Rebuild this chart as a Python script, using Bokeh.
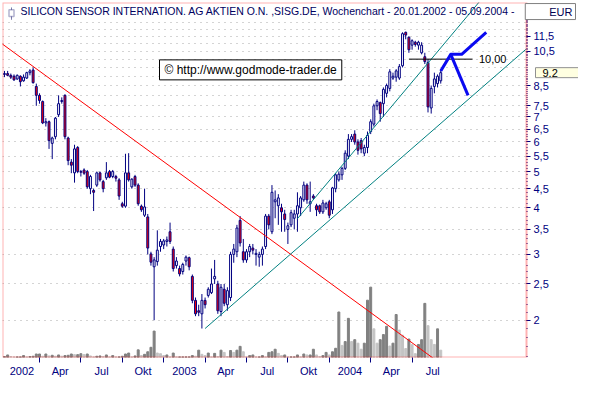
import numpy as np
import pandas as pd
from bokeh.plotting import figure
from bokeh.models import (Range1d, LinearScale, FixedTicker, LinearAxis, Label,
                          ColumnDataSource, BoxAnnotation)
from bokeh.embed import file_html
from bokeh.resources import INLINE

# ---------------- data (weekly, SISG.DE) ----------------
first_week = "2002-01-20"
opens = [9.10, 9.15, 9.05, 9.00, 8.85, 9.00, 8.75, 8.90, 9.20, 9.35,
         8.45, 8.00, 7.70, 6.75, 6.80, 5.95, 6.20, 7.10, 7.70, 8.00,
         6.15, 5.30, 4.96, 5.80, 5.00, 5.05, 5.00, 4.50, 4.45, 4.60,
         4.96, 4.70, 4.81, 5.00, 4.85, 4.85, 4.75, 4.10, 4.04, 4.96,
         4.55, 4.85, 4.60, 4.04, 3.82, 3.78, 3.01, 2.78, 2.87, 3.15,
         3.18, 3.25, 3.45, 3.10, 2.80, 2.75, 2.70, 2.88, 2.94, 2.62,
         2.26, 2.12, 2.08, 2.26, 2.33, 2.37, 2.58, 2.50, 2.11, 2.42,
         2.20, 2.30, 3.00, 3.05, 3.70, 3.05, 2.90, 3.05, 3.12, 3.00,
         2.95, 3.00, 3.15, 3.80, 3.45, 4.15, 4.05, 4.00, 3.85, 3.50,
         3.60, 3.75, 3.85, 4.00, 4.20, 4.60, 4.10, 4.30, 4.05, 4.05,
         3.90, 4.00, 4.15, 3.95, 4.50, 4.75, 4.90, 5.10, 5.50, 6.10,
         6.30, 6.00, 6.05, 5.60, 5.80, 6.40, 6.70, 7.50, 7.65, 7.60,
         8.10, 8.35, 8.90, 8.95, 8.90, 9.60, 11.80, 11.45, 10.90, 11.10,
         10.90, 10.40, 10.15, 9.80, 7.40, 8.45, 8.60, 8.75]
highs = [9.30, 9.30, 9.15, 9.10, 9.10, 9.05, 9.10, 9.25, 9.40, 9.50,
         8.60, 8.10, 7.75, 6.95, 6.85, 6.20, 7.00, 8.00, 7.90, 8.05,
         6.20, 5.40, 5.90, 5.85, 5.05, 5.10, 5.05, 4.90, 4.50, 5.00,
         5.00, 4.75, 5.30, 5.05, 5.05, 4.90, 4.80, 4.15, 5.58, 5.60,
         4.80, 4.90, 4.65, 4.08, 4.50, 3.85, 3.05, 2.95, 3.48, 3.30,
         3.30, 3.35, 3.65, 3.15, 2.95, 2.80, 2.85, 2.98, 2.96, 2.65,
         2.30, 2.20, 2.35, 2.30, 2.45, 2.75, 2.90, 2.55, 2.50, 2.50,
         2.45, 3.05, 3.20, 3.60, 3.80, 3.30, 3.10, 3.20, 3.20, 3.10,
         3.05, 3.15, 3.85, 3.85, 4.60, 4.45, 4.35, 4.10, 3.95, 3.65,
         3.95, 3.95, 4.40, 4.30, 4.70, 4.65, 4.70, 4.35, 4.10, 4.08,
         4.20, 4.15, 4.20, 4.55, 4.95, 5.00, 5.15, 5.70, 6.30, 6.30,
         6.45, 6.10, 6.15, 5.90, 6.40, 6.90, 7.60, 7.80, 7.70, 8.40,
         8.60, 9.40, 9.20, 9.40, 9.70, 11.80, 11.85, 11.50, 11.30, 11.20,
         11.20, 11.10, 10.40, 10.00, 8.50, 9.20, 9.10, 9.35]
lows = [8.95, 9.00, 8.85, 8.75, 8.80, 8.45, 8.70, 8.85, 9.05, 8.60,
        7.50, 7.60, 6.70, 6.60, 5.75, 5.40, 6.10, 7.00, 7.60, 6.10,
        5.20, 4.95, 4.67, 4.95, 4.85, 4.90, 4.50, 4.35, 3.92, 4.55,
        4.70, 4.40, 4.75, 4.80, 4.80, 4.70, 4.20, 4.00, 4.00, 4.70,
        4.50, 4.55, 4.05, 3.90, 3.78, 3.00, 2.80, 2.00, 2.80, 3.05,
        3.10, 3.15, 3.20, 2.70, 2.75, 2.62, 2.65, 2.80, 2.72, 2.22,
        2.05, 2.05, 1.90, 2.15, 2.30, 2.35, 2.50, 2.08, 2.05, 2.18,
        2.12, 2.25, 2.85, 2.95, 3.15, 2.85, 2.85, 2.95, 3.00, 2.80,
        2.78, 2.80, 3.10, 3.50, 3.40, 3.75, 3.60, 3.45, 3.45, 3.20,
        3.55, 3.50, 3.45, 3.80, 4.15, 4.10, 3.90, 4.20, 3.80, 3.85,
        3.85, 3.95, 3.75, 3.85, 4.40, 4.70, 4.75, 5.05, 5.40, 6.00,
        5.90, 5.55, 5.60, 5.50, 5.60, 6.30, 6.60, 7.30, 6.80, 7.00,
        7.90, 8.20, 8.80, 8.70, 8.80, 9.50, 11.30, 10.40, 10.60, 10.80,
        10.60, 10.30, 9.70, 7.20, 7.15, 8.10, 8.40, 8.60]
closes = [9.15, 9.05, 8.95, 8.80, 9.05, 8.70, 8.95, 9.20, 9.30, 8.65,
          8.00, 7.75, 6.75, 6.80, 6.05, 6.15, 6.95, 7.60, 7.75, 6.20,
          5.35, 5.20, 5.75, 5.00, 4.98, 4.95, 4.55, 4.85, 4.40, 4.96,
          4.75, 4.50, 4.96, 4.83, 5.00, 4.80, 4.30, 4.04, 4.96, 4.75,
          4.77, 4.60, 4.10, 3.95, 4.02, 3.12, 2.86, 2.90, 3.08, 3.25,
          3.26, 3.28, 3.25, 2.75, 2.88, 2.66, 2.82, 2.95, 2.78, 2.26,
          2.08, 2.10, 2.26, 2.20, 2.42, 2.50, 2.62, 2.12, 2.45, 2.22,
          2.40, 3.00, 3.10, 3.53, 3.22, 2.90, 3.05, 3.15, 3.08, 3.02,
          3.00, 3.10, 3.80, 3.60, 4.40, 4.20, 4.25, 3.90, 3.72, 3.58,
          3.88, 3.85, 4.05, 4.25, 4.60, 4.20, 4.15, 4.25, 3.95, 3.90,
          4.12, 4.10, 3.82, 4.52, 4.90, 4.92, 5.10, 5.60, 6.10, 6.20,
          6.00, 5.70, 5.75, 5.80, 6.25, 6.80, 7.50, 7.70, 7.15, 8.30,
          8.50, 9.25, 9.00, 9.30, 9.55, 11.70, 11.60, 10.60, 11.20, 10.95,
          11.10, 10.90, 9.85, 7.45, 8.35, 8.85, 9.00, 9.20]
volumes = [3, 8, 3, 2, 2, 2, 6, 2, 3, 4,
           11, 11, 4, 11, 5, 7, 4, 8, 4, 6,
           7, 11, 9, 9, 12, 9, 11, 5, 2, 4,
           5, 3, 8, 2, 6, 2, 2, 4, 11, 14,
           2, 5, 24, 6, 10, 18, 32, 83, 14, 12,
           6, 8, 2, 14, 2, 2, 2, 2, 2, 6,
           4, 23, 10, 6, 14, 2, 13, 3, 23, 16,
           3, 22, 16, 23, 35, 18, 2, 6, 8, 2,
           2, 6, 2, 16, 18, 26, 13, 6, 8, 2,
           2, 2, 8, 2, 11, 8, 8, 26, 8, 3,
           6, 16, 8, 18, 29, 143, 38, 50, 123, 50,
           56, 45, 26, 45, 180, 221, 90, 45, 56, 72,
           98, 36, 45, 135, 86, 70, 28, 58, 40, 12,
           41, 56, 170, 100, 56, 41, 90, 23]

quarter_starts = ["2002-04-07", "2002-07-07", "2002-10-06", "2003-01-05", "2003-04-06",
                  "2003-07-06", "2003-10-05", "2004-01-04", "2004-04-04", "2004-07-04"]
next_quarter = "2004-10-03"
x_labels = ["2002", "Apr", "Jul", "Okt", "2003", "Apr", "Jul", "Okt", "2004", "Apr", "Jul"]

y_label_values = [2, 2.5, 3, 3.5, 4, 4.5, 5, 5.5, 6, 6.5, 7, 7.5, 8.5, 10.5, 11.5]
y_label_texts = ["2", "2,5", "3", "3,5", "4", "4,5", "5", "5,5", "6", "6,5", "7", "7,5",
                 "8,5", "10,5", "11,5"]
grid_values = [2, 2.5, 3, 3.5, 4, 4.5, 5, 5.5, 6, 6.5, 7, 7.5, 8, 8.5, 9, 9.5, 10, 10.5,
               11, 11.5, 12, 12.5]

# trend lines (date, price)
red_trend_dates = ["2002-01-06", "2004-09-26"]
red_trend_prices = [11.19, 1.465]
support_dates = ["2003-04-06", "2005-03-11"]
support_prices = [1.90, 10.62]
steep_dates = ["2003-10-26", "2004-12-12"]
steep_prices = [3.74, 14.88]
level_dates = ["2004-06-27", "2004-11-14"]
level_prices = [10.0, 10.0]
proj_up_dates = ["2004-09-05", "2004-09-27", "2004-10-21", "2004-12-14"]
proj_up_prices = [9.3, 10.3, 10.3, 11.8]
proj_down_dates = ["2004-09-27", "2004-11-04"]
proj_down_prices = [10.3, 8.0]
last_price = 9.2

# ---------------- layout constants ----------------
W, H = 578, 379
LEFT, TOP, BOTTOM = 2, 2, 21
CHART_PX = 524          # chart part of the frame
AXIS_PX = W - LEFT - CHART_PX   # price-axis zone at the right (inside the frame)
Y_MIN, Y_MAX = 1.589, 14.18

DAY = 24 * 3600 * 1000.0
WEEK = 7 * DAY


def ms(d):
    return pd.Timestamp(d).value / 1e6


dates = pd.date_range(first_week, periods=len(closes), freq="7D")
xs = [ms(d) for d in dates]
x_start = ms(dates[0]) - 4.3 * DAY
x_border = ms(dates[0]) + 1147.5 * DAY
x_end = x_border + (x_border - x_start) * AXIS_PX / CHART_PX

NAVY = "#000080"
FONT = "Liberation Sans"

up = [c >= o for o, c in zip(opens, closes)]
src = ColumnDataSource(dict(
    x=xs,
    top=[max(o, c) for o, c in zip(opens, closes)],
    bottom=[min(o, c) for o, c in zip(opens, closes)],
    high=highs, low=lows,
    fill=["white" if u else "#FF0000" for u in up],
))
vol_colors = ["#808080"] + ["#808080" if volumes[i] >= volumes[i - 1] else "#C4C4C4"
                            for i in range(1, len(volumes))]
vsrc = ColumnDataSource(dict(x=xs, v=volumes, c=vol_colors))

p = figure(width=W, height=H, y_axis_type="log", x_axis_type=None,
           y_axis_location="right",
           x_range=Range1d(x_start, x_end), y_range=Range1d(Y_MIN, Y_MAX),
           output_backend="svg", toolbar_location=None,
           min_border_left=LEFT, min_border_right=0, min_border_top=TOP,
           min_border_bottom=BOTTOM)
p.background_fill_color = "white"
p.border_fill_color = "white"
p.outline_line_color = None

# grid (dotted)
p.ygrid.ticker = FixedTicker(ticks=grid_values)
p.ygrid.grid_line_color = "#A8A8A8"
p.ygrid.grid_line_dash = "1 5"
p.ygrid.grid_line_width = 1

# white zone right of the chart (price axis area)
p.add_layout(BoxAnnotation(left=x_border, right=x_end + 10 * WEEK, bottom=1.0, top=30.0,
                           fill_color="white", fill_alpha=1.0, line_color=None,
                           level="glyph"))

# right price axis drawn at the chart border
yax = p.yaxis[0]
minor_vals = [round(1.5 + 0.1 * k, 1) for k in range(0, 130)]
yax.ticker = FixedTicker(ticks=y_label_values, minor_ticks=minor_vals)
yax.major_label_overrides = {v: t for v, t in zip(y_label_values, y_label_texts)}
yax.fixed_location = x_border
yax.axis_line_color = None
yax.major_tick_line_color = NAVY
yax.minor_tick_line_color = NAVY
yax.major_tick_out = 4
yax.major_tick_in = 0
yax.minor_tick_out = 1
yax.minor_tick_in = 0
yax.major_label_standoff = 3
yax.major_label_text_font = FONT
yax.major_label_text_font_size = "11px"
yax.major_label_text_color = NAVY

# bottom time axis: quarter boundary ticks + centred labels
bounds = [ms(dates[0])] + [ms(d) for d in quarter_starts] + [ms(next_quarter)]
label_pos = [(bounds[k] + bounds[k + 1]) / 2 for k in range(len(x_labels))]
xax = LinearAxis(ticker=FixedTicker(ticks=label_pos, minor_ticks=[ms(d) for d in quarter_starts]))
xax.major_label_overrides = {v: t for v, t in zip(label_pos, x_labels)}
xax.axis_label = None
xax.axis_line_color = None
xax.major_tick_line_color = None
xax.major_tick_out = 0
xax.major_tick_in = 0
xax.minor_tick_line_color = NAVY
xax.minor_tick_out = 5
xax.minor_tick_in = 0
xax.major_label_standoff = 2
xax.major_label_text_font = FONT
xax.major_label_text_font_size = "11px"
xax.major_label_text_color = NAVY
p.add_layout(xax, "below")

# volume on its own linear scale
p.extra_y_ranges = {"vol": Range1d(0, 1115)}
p.extra_y_scales = {"vol": LinearScale()}
p.vbar(x="x", top="v", bottom=0, width=0.62 * WEEK, color="c", source=vsrc, y_range_name="vol")

# candles
p.segment(x0="x", x1="x", y0="low", y1="high", source=src, line_color=NAVY, line_width=1)
p.vbar(x="x", top="top", bottom="bottom", width=0.6 * WEEK, fill_color="fill",
       line_color=NAVY, line_width=1, source=src)

# trend lines
p.line([ms(d) for d in red_trend_dates], red_trend_prices, line_color="#FF0000", line_width=1)
p.line([ms(d) for d in support_dates], support_prices, line_color="#008080", line_width=1)
p.line([ms(d) for d in steep_dates], steep_prices, line_color="#008080", line_width=1)
p.line([ms(d) for d in level_dates], level_prices, line_color="black", line_width=1)
p.line([ms(d) for d in proj_up_dates], proj_up_prices, line_color="#0A0AF0", line_width=3,
       line_join="round")
p.line([ms(d) for d in proj_down_dates], proj_down_prices, line_color="#0A0AF0", line_width=3,
       line_join="round")

# red frame around the chart part
p.add_layout(BoxAnnotation(left=x_start, right=x_border, bottom=Y_MIN, top=Y_MAX,
                           fill_alpha=0.0, line_color="#FF0000", line_width=2))

# small candle icon before the title
p.add_layout(BoxAnnotation(left=9, right=9, left_units="screen", right_units="screen",
                           top=13.75, bottom=12.75, fill_alpha=0.0,
                           line_color="#000060", line_width=1))
p.add_layout(BoxAnnotation(left=6.5, right=11.5, left_units="screen", right_units="screen",
                           top=13.55, bottom=13.0, fill_color="white", fill_alpha=1.0,
                           line_color="#000060", line_width=1.5))

# annotations
p.add_layout(Label(x=ms("2004-11-28"), y=10.0, text="10,00", text_font=FONT,
                   text_font_size="11px", text_color="black", text_baseline="middle"))
p.add_layout(Label(x=18, y=13.45, x_units="screen", y_units="data",
                   text="SILICON SENSOR INTERNATION. AG AKTIEN O.N. ,SISG.DE, Wochenchart - 20.01.2002 - 05.09.2004 -",
                   text_font=FONT, text_font_size="10.5px", text_color="#000060",
                   text_baseline="middle"))
p.add_layout(Label(x=157, y=9.36, x_units="screen", y_units="data",
                   text="\u00a9 http://www.godmode-trader.de",
                   text_font=FONT, text_font_size="12px", text_color="black",
                   text_baseline="middle", background_fill_color="white",
                   border_line_color="black", border_line_width=1,
                   padding=dict(left=5, right=5, top=3, bottom=3)))
p.add_layout(Label(x=CHART_PX + 9, y=last_price, x_units="screen", y_units="data",
                   text="9.2", text_font=FONT, text_font_size="11px", text_color="black",
                   text_baseline="middle", background_fill_color="#FFFFE1",
                   border_line_color="#909090", border_line_width=1,
                   padding=dict(left=7, right=26, top=1, bottom=1)))
p.add_layout(Label(x=CHART_PX + AXIS_PX - 3, y=13.41, x_units="screen", y_units="data",
                   text="EUR", text_font=FONT, text_font_size="11px", text_color="#000050",
                   text_align="right", text_baseline="middle", background_fill_color="white",
                   border_line_color="#808080", border_line_width=1,
                   padding=dict(left=24, right=3, top=2, bottom=2)))

open("out.html", "w").write(file_html(p, INLINE))
